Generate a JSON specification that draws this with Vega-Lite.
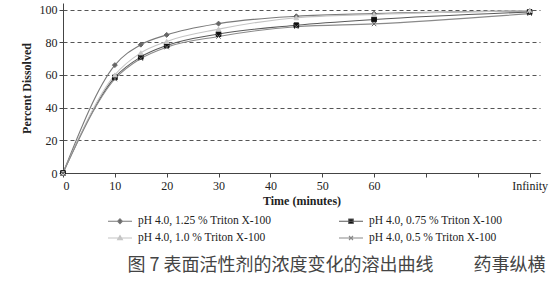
{
  "$schema": "https://vega.github.io/schema/vega-lite/v6.json",
  "autosize": {"type": "none"},
  "padding": {"left": 63, "top": 3, "right": 13, "bottom": 117},
  "width": 477,
  "height": 170,
  "background": "white",
  "title": {
    "text": "图 7 表面活性剂的浓度变化的溶出曲线　　 药事纵横",
    "orient": "bottom",
    "anchor": "middle",
    "dx": 35,
    "offset": 13,
    "font": "Noto Sans CJK SC",
    "fontSize": 18,
    "fontWeight": "normal",
    "color": "#444"
  },
  "data": {
    "values": [
      {"series": "pH 4.0, 1.25 % Triton X-100", "time": 0, "pct": 0},
      {"series": "pH 4.0, 1.25 % Triton X-100", "time": 10, "pct": 66},
      {"series": "pH 4.0, 1.25 % Triton X-100", "time": 15, "pct": 78.5},
      {"series": "pH 4.0, 1.25 % Triton X-100", "time": 20, "pct": 84.5},
      {"series": "pH 4.0, 1.25 % Triton X-100", "time": 30, "pct": 91.4},
      {"series": "pH 4.0, 1.25 % Triton X-100", "time": 45, "pct": 95.9},
      {"series": "pH 4.0, 1.25 % Triton X-100", "time": 60, "pct": 97.5},
      {"series": "pH 4.0, 1.25 % Triton X-100", "time": 90, "pct": 99.2},
      {"series": "pH 4.0, 0.75 % Triton X-100", "time": 0, "pct": 0},
      {"series": "pH 4.0, 0.75 % Triton X-100", "time": 10, "pct": 58.5},
      {"series": "pH 4.0, 0.75 % Triton X-100", "time": 15, "pct": 71},
      {"series": "pH 4.0, 0.75 % Triton X-100", "time": 20, "pct": 78},
      {"series": "pH 4.0, 0.75 % Triton X-100", "time": 30, "pct": 85},
      {"series": "pH 4.0, 0.75 % Triton X-100", "time": 45, "pct": 90.4},
      {"series": "pH 4.0, 0.75 % Triton X-100", "time": 60, "pct": 93.9},
      {"series": "pH 4.0, 0.75 % Triton X-100", "time": 90, "pct": 98.5},
      {"series": "pH 4.0, 1.0 % Triton X-100", "time": 0, "pct": 0},
      {"series": "pH 4.0, 1.0 % Triton X-100", "time": 10, "pct": 60},
      {"series": "pH 4.0, 1.0 % Triton X-100", "time": 15, "pct": 73.5},
      {"series": "pH 4.0, 1.0 % Triton X-100", "time": 20, "pct": 80.5},
      {"series": "pH 4.0, 1.0 % Triton X-100", "time": 30, "pct": 88},
      {"series": "pH 4.0, 1.0 % Triton X-100", "time": 45, "pct": 95},
      {"series": "pH 4.0, 1.0 % Triton X-100", "time": 60, "pct": 97},
      {"series": "pH 4.0, 1.0 % Triton X-100", "time": 90, "pct": 99.4},
      {"series": "pH 4.0, 0.5 % Triton X-100", "time": 0, "pct": 0},
      {"series": "pH 4.0, 0.5 % Triton X-100", "time": 10, "pct": 57.5},
      {"series": "pH 4.0, 0.5 % Triton X-100", "time": 15, "pct": 70},
      {"series": "pH 4.0, 0.5 % Triton X-100", "time": 20, "pct": 77},
      {"series": "pH 4.0, 0.5 % Triton X-100", "time": 30, "pct": 83.5},
      {"series": "pH 4.0, 0.5 % Triton X-100", "time": 45, "pct": 89.5},
      {"series": "pH 4.0, 0.5 % Triton X-100", "time": 60, "pct": 91.2},
      {"series": "pH 4.0, 0.5 % Triton X-100", "time": 90, "pct": 97.5}
    ]
  },
  "encoding": {
    "x": {
      "field": "time",
      "type": "quantitative",
      "scale": {"domain": [0, 92], "nice": false, "zero": false},
      "axis": {
        "title": "Time (minutes)",
        "values": [0, 10, 20, 30, 40, 50, 60, 70, 80, 90],
        "labelExpr": "datum.value == 90 ? 'Infinity' : (datum.value > 60 ? '' : datum.label)",
        "grid": false,
        "domainColor": "#444",
        "tickColor": "#444",
        "tickSize": 4,
        "labelFont": "Liberation Serif",
        "labelFontSize": 12,
        "labelColor": "#222",
        "labelPadding": 3,
        "titleFont": "Liberation Serif",
        "titleFontSize": 12,
        "titleFontWeight": "bold",
        "titleColor": "#222",
        "titlePadding": 4
      }
    },
    "y": {
      "field": "pct",
      "type": "quantitative",
      "scale": {"domain": [0, 104], "nice": false},
      "axis": {
        "title": "Percent Dissolved",
        "values": [0, 20, 40, 60, 80, 100],
        "grid": true,
        "gridColor": "#555",
        "gridDash": [4, 3],
        "gridWidth": 1.2,
        "domainColor": "#444",
        "tickColor": "#444",
        "tickSize": 4,
        "labelFont": "Liberation Serif",
        "labelFontSize": 12,
        "labelColor": "#222",
        "titleFont": "Liberation Serif",
        "titleFontSize": 12,
        "titleFontWeight": "bold",
        "titleColor": "#222",
        "titlePadding": 6
      }
    }
  },
  "layer": [
    {
      "mark": {"type": "line", "interpolate": "monotone", "strokeWidth": 1.1},
      "encoding": {
        "color": {
          "field": "series",
          "type": "nominal",
          "sort": ["pH 4.0, 1.25 % Triton X-100", "pH 4.0, 0.75 % Triton X-100", "pH 4.0, 1.0 % Triton X-100", "pH 4.0, 0.5 % Triton X-100"],
          "scale": {
            "domain": ["pH 4.0, 1.25 % Triton X-100", "pH 4.0, 0.75 % Triton X-100", "pH 4.0, 1.0 % Triton X-100", "pH 4.0, 0.5 % Triton X-100"],
            "range": ["#7a7a7a", "#5a5a5a", "#c4c4c4", "#8a8a8a"]
          },
          "legend": {
            "title": null,
            "orient": "none",
            "legendX": 48,
            "legendY": 209,
            "direction": "horizontal",
            "columns": 2,
            "columnPadding": 64,
            "rowPadding": 2,
            "padding": 0,
            "symbolSize": 256,
            "labelOffset": 9,
            "labelFont": "Liberation Serif",
            "labelFontSize": 11.5,
            "labelColor": "#222",
            "labelLimit": 300,
            "encode": {
              "symbols": {
                "update": {
                  "shape": {"signal": "datum.value == 'pH 4.0, 1.25 % Triton X-100' ? 'M-1.5,0H1.5M0,-0.3L0.3,0L0,0.3L-0.3,0Z' : datum.value == 'pH 4.0, 0.75 % Triton X-100' ? 'M-1.5,0H1.5M-0.28,-0.28H0.28V0.28H-0.28Z' : datum.value == 'pH 4.0, 1.0 % Triton X-100' ? 'M-1.5,0H1.5M0,-0.3L0.3,0.22L-0.3,0.22Z' : 'M-1.5,0H1.5M-0.25,-0.25L0.25,0.25M-0.25,0.25L0.25,-0.25'"},
                  "fill": {"signal": "datum.value == 'pH 4.0, 1.25 % Triton X-100' ? '#555' : datum.value == 'pH 4.0, 0.75 % Triton X-100' ? '#111' : datum.value == 'pH 4.0, 1.0 % Triton X-100' ? '#c8c8c8' : 'transparent'"},
                  "stroke": {"signal": "datum.value == 'pH 4.0, 1.25 % Triton X-100' ? '#555' : datum.value == 'pH 4.0, 0.75 % Triton X-100' ? '#111' : datum.value == 'pH 4.0, 1.0 % Triton X-100' ? '#c8c8c8' : '#666'"},
                  "strokeWidth": {"value": 1.1}
                }
              }
            }
          }
        }
      }
    },
    {
      "transform": [{"filter": "datum.series == 'pH 4.0, 1.25 % Triton X-100'"}],
      "mark": {"type": "point", "shape": "diamond", "filled": true, "opacity": 1, "size": 24, "color": "#666", "stroke": "#666", "strokeWidth": 1}
    },
    {
      "transform": [{"filter": "datum.series == 'pH 4.0, 0.75 % Triton X-100'"}],
      "mark": {"type": "point", "shape": "square", "filled": true, "opacity": 1, "size": 22, "color": "#111", "stroke": "#111", "strokeWidth": 1}
    },
    {
      "transform": [{"filter": "datum.series == 'pH 4.0, 1.0 % Triton X-100'"}],
      "mark": {"type": "point", "shape": "triangle-up", "filled": true, "opacity": 1, "size": 22, "color": "#c8c8c8", "stroke": "#c8c8c8", "strokeWidth": 1}
    },
    {
      "transform": [{"filter": "datum.series == 'pH 4.0, 0.5 % Triton X-100'"}],
      "mark": {"type": "point", "shape": "M-1,-1L1,1M-1,1L1,-1", "filled": false, "opacity": 1, "size": 20, "color": "#666", "stroke": "#666", "strokeWidth": 1}
    }
  ],
  "config": {
    "view": {"stroke": null}
  }
}
